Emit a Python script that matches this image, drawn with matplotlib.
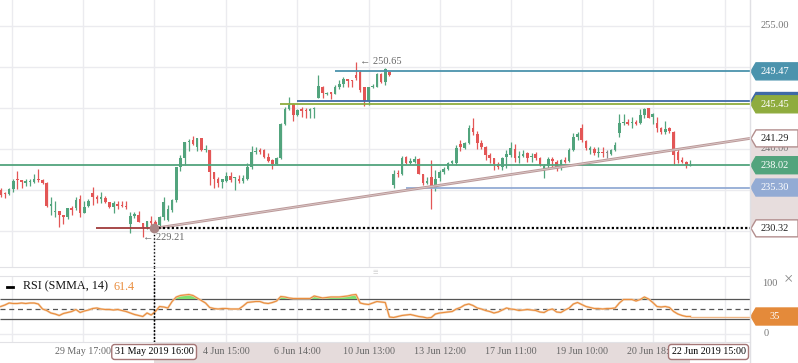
import numpy as np
import matplotlib.pyplot as plt
import matplotlib.transforms as mtransforms
from matplotlib.patches import Polygon, Rectangle
from matplotlib.lines import Line2D

plt.rcParams['font.family'] = ['Liberation Serif', 'DejaVu Sans']

# ---- hourly candles ----
opens = [235.0, 234.6, 234.5, 235.1, 236.4, 236.2, 235.9, 236.0, 236.0, 236.4,
         236.2, 235.9, 233.0, 232.3, 232.4, 231.9, 231.7, 232.8, 232.8, 233.9,
         232.2, 233.0, 234.6, 234.1, 233.9, 234.0, 233.5, 232.9, 233.3, 233.2,
         233.1, 230.8, 231.85, 231.95, 230.95, 230.5, 231.25, 231.1, 230.75, 231.7,
         231.35, 232.6, 233.8, 237.85, 238.85, 240.8, 241.1, 240.3, 241.3, 239.9,
         239.9, 237.2, 236.3, 236.0, 236.1, 236.7, 236.5, 236.4, 236.1, 236.3,
         237.85, 239.65, 239.9, 239.9, 239.05, 238.65, 238.15, 238.95, 243.05, 244.9,
         245.45, 244.15, 244.85, 244.75, 244.65, 244.85, 246.2, 247.5, 246.7, 246.9,
         246.7, 247.5, 247.95, 248.55, 248.4, 249.0, 249.4, 247.5, 245.8, 247.5,
         247.6, 249.2, 248.2, 249.4, 235.6, 237.1, 236.95, 239.0, 238.3, 238.4,
         238.8, 237.0, 235.9, 236.55, 235.3, 236.5, 237.15, 237.55, 238.3, 238.3,
         240.6, 240.1, 240.7, 242.6, 241.8, 240.7, 240.3, 239.3, 238.85, 238.15,
         237.85, 239.05, 239.25, 239.95, 238.95, 239.15, 239.45, 239.0, 239.35, 238.85,
         237.3, 237.95, 238.75, 238.45, 237.65, 238.65, 238.55, 239.9, 241.5, 242.5,
         241.0, 239.9, 240.0, 239.55, 239.65, 239.5, 239.4, 239.9, 242.0, 243.15,
         243.25, 243.15, 243.25, 243.15, 244.15, 244.95, 243.95, 243.15, 242.5, 242.05,
         242.5, 242.1, 239.65, 238.6, 238.4, 237.95]
highs = [235.3, 234.8, 235.3, 236.3, 237.3, 236.2, 236.3, 236.4, 236.9, 237.5,
         236.4, 236.0, 234.1, 233.7, 232.4, 231.9, 232.8, 233.0, 234.1, 234.4,
         233.7, 233.9, 235.4, 234.4, 234.7, 234.3, 233.5, 233.6, 233.7, 233.7,
         233.7, 232.35, 232.35, 232.4, 230.95, 231.25, 231.8, 231.3, 231.85, 234.2,
         233.15, 233.9, 237.85, 239.25, 240.8, 241.2, 241.6, 241.4, 241.3, 240.5,
         239.9, 237.2, 236.6, 236.4, 237.2, 237.2, 236.6, 236.8, 236.8, 238.35,
         240.4, 240.2, 240.1, 239.95, 239.55, 238.8, 239.05, 243.2, 245.15, 246.3,
         245.65, 244.85, 245.1, 244.95, 244.95, 245.1, 249.0, 247.7, 247.0, 247.0,
         247.8, 248.4, 248.75, 248.55, 248.4, 250.65, 249.6, 247.6, 247.5, 247.9,
         249.3, 249.3, 249.9, 249.5, 237.4, 237.4, 239.1, 239.1, 238.9, 239.1,
         238.9, 237.0, 236.55, 238.65, 237.4, 237.4, 237.8, 238.4, 238.7, 240.5,
         241.1, 240.8, 242.9, 243.8, 242.2, 241.1, 240.4, 239.55, 238.9, 238.45,
         239.0, 239.9, 240.9, 240.55, 239.8, 239.9, 239.65, 239.55, 239.65, 239.0,
         238.15, 239.05, 239.0, 238.6, 238.8, 239.05, 240.1, 242.0, 242.1, 243.05,
         241.1, 240.35, 240.2, 240.2, 240.2, 239.9, 239.95, 240.8, 244.3, 244.3,
         243.65, 243.95, 243.5, 244.85, 244.95, 245.05, 244.4, 243.95, 242.65, 243.45,
         242.7, 242.2, 239.95, 239.05, 238.5, 238.7]
lows = [234.2, 234.0, 234.4, 234.7, 235.1, 235.3, 235.5, 235.5, 235.8, 236.0,
        235.7, 232.9, 231.9, 231.7, 230.5, 230.9, 231.5, 231.9, 232.6, 231.7,
        232.2, 232.9, 233.2, 233.4, 233.4, 233.4, 232.8, 232.2, 232.7, 232.9,
        232.7, 229.8, 231.55, 231.05, 229.21, 230.3, 230.75, 230.45, 230.5, 231.3,
        231.25, 232.35, 233.5, 237.35, 238.1, 239.75, 240.5, 239.75, 239.7, 239.6,
        235.6, 235.3, 235.4, 235.2, 236.0, 236.0, 235.0, 235.8, 235.9, 236.2,
        237.6, 239.35, 239.4, 238.85, 238.45, 237.6, 238.05, 238.75, 242.95, 244.75,
        243.4, 244.05, 243.95, 243.8, 243.8, 243.75, 246.2, 246.2, 246.6, 246.1,
        246.65, 247.3, 247.6, 247.6, 247.6, 248.4, 247.0, 245.3, 245.4, 247.4,
        247.5, 248.1, 247.8, 248.9, 235.3, 236.6, 236.8, 238.2, 238.2, 238.3,
        236.95, 235.6, 235.7, 232.7, 234.9, 236.1, 237.0, 237.4, 238.2, 238.1,
        239.7, 240.0, 240.6, 241.7, 239.95, 239.95, 238.65, 238.35, 237.45, 237.5,
        237.45, 237.65, 239.05, 238.45, 238.25, 239.0, 238.45, 238.45, 238.65, 237.95,
        236.5, 237.65, 237.85, 237.35, 237.45, 238.25, 238.45, 239.8, 241.1, 240.8,
        239.9, 239.4, 239.25, 239.0, 239.05, 238.85, 239.25, 239.8, 241.5, 242.9,
        242.9, 242.6, 242.9, 243.1, 243.75, 243.75, 243.05, 242.05, 241.85, 241.85,
        242.0, 238.1, 238.25, 238.25, 237.7, 237.9]
closes = [234.4, 234.5, 235.1, 236.1, 236.2, 236.0, 236.1, 236.1, 236.4, 236.2,
          235.8, 233.0, 233.3, 232.4, 231.9, 231.7, 232.8, 232.6, 233.8, 232.2,
          232.9, 233.6, 234.1, 233.9, 234.1, 233.5, 232.9, 233.4, 233.1, 233.0,
          232.95, 231.8, 232.05, 231.15, 230.5, 231.25, 231.0, 230.6, 231.7, 233.5,
          232.65, 233.8, 237.85, 238.85, 240.8, 241.0, 240.6, 241.3, 239.9, 240.0,
          237.2, 236.4, 235.9, 236.3, 236.7, 236.2, 236.6, 236.1, 236.5, 237.85,
          239.6, 239.8, 239.65, 239.05, 238.55, 238.15, 238.95, 243.05, 244.9, 245.35,
          244.15, 244.75, 244.65, 244.65, 244.85, 244.95, 247.7, 246.8, 246.8, 246.7,
          247.5, 247.95, 248.55, 248.35, 248.3, 248.6, 247.2, 245.8, 247.5, 247.7,
          249.2, 248.2, 249.8, 249.0, 237.0, 236.9, 238.95, 238.3, 238.5, 238.8,
          237.0, 235.8, 236.1, 235.5, 236.4, 237.15, 237.6, 238.3, 238.5, 240.1,
          240.3, 240.7, 242.6, 242.05, 240.7, 240.3, 239.3, 238.95, 238.15, 237.85,
          238.85, 239.4, 240.1, 238.95, 239.15, 239.4, 238.85, 239.2, 238.85, 238.05,
          237.95, 238.75, 238.55, 237.5, 238.65, 238.45, 239.9, 241.5, 241.85, 241.1,
          240.1, 240.1, 239.55, 239.65, 239.55, 239.5, 239.9, 240.5, 243.2, 243.25,
          243.1, 243.25, 243.05, 244.15, 244.85, 243.75, 244.3, 242.5, 242.05, 242.4,
          242.25, 239.3, 238.6, 238.4, 238.1, 238.02]

rsi_values = [55, 58, 62, 61, 61, 62, 61, 62, 62, 60, 50, 47, 42, 40, 37, 41, 43, 45, 49, 43,
              46, 48, 51, 52, 50, 49, 49, 48, 49, 47, 45, 42, 39, 37, 35, 42, 38, 45, 55, 54,
              52, 65, 74, 77, 78, 79, 77, 72, 67, 62, 53, 51, 50, 51, 51, 50, 50, 50, 56, 63,
              64, 65, 65, 62, 61, 63, 66, 75, 74, 72, 71, 71, 71, 71, 71, 76, 74, 72, 73, 74,
              74, 74, 75, 76, 78, 79, 62, 60, 59, 62, 65, 64, 63, 34, 33, 35, 37, 38, 39, 37,
              35, 34, 32, 33, 40, 42, 43, 44, 45, 50, 53, 58, 60, 57, 52, 50, 47, 45, 42, 44,
              48, 52, 50, 49, 47, 48, 49, 48, 47, 44, 43, 48, 50, 44, 43, 48, 52, 60, 63, 59,
              55, 53, 51, 51, 50, 51, 51, 52, 62, 69, 69, 69, 66, 69, 74, 70, 63, 55, 54, 55,
              53, 45, 40, 37, 35, 35]

# time axis (candle index) and its labels
tick_pos = [2.7, 19.7, 36.7, 53.9, 70.9, 88.1, 105.1, 122.1, 139.1, 156.1, 173.3]
tick_labels = ['', '29 May 17:00', '', '4 Jun 15:00', '6 Jun 14:00', '10 Jun 13:00',
               '13 Jun 12:00', '17 Jun 11:00', '19 Jun 10:00', '20 Jun 18:00', '']
cross_label_left = '31 May 2019 16:00'
cross_label_right = '22 Jun 2019 15:00'
grid_prices = [230, 235, 240, 245, 250, 255]

# drawn objects on the chart
level_prices = [249.47, 245.85, 245.45, 238.02, 235.30]
level_starts = [80.0, 70.8, 66.8, -0.2, 97.0]
level_tags = ['249.47', '', '245.45', '238.02', '235.30']
trend_start = (36.7, 230.32)
trend_end_price = 241.29
low_mark = (34, 229.21)
high_mark = (85, 250.65)
red_ray_start = 22.8
rsi_levels = [70, 50, 30]
rsi_last_tag = '35'
rsi_legend_value = '61.4'

level_colors = ['#4b93ad', '#3f6aa6', '#8fac3e', '#52a47d', '#93abd4']
GREEN, RED, GRAY = '#52a47d', '#e35656', '#8a8a8a'
GRID = '#ebebef'

W, H = 798, 363
fig = plt.figure(figsize=(W / 100, H / 100), dpi=100)
ax = fig.add_axes([0, 1 - 267.3 / H, 750 / W, 267.3 / H])
ax_r = fig.add_axes([0, 1 - 341.7 / H, 750 / W, 66 / H])

xmin, xmax = -0.17, 179.26
for a in (ax, ax_r):
    a.set_xlim(xmin, xmax)
    a.set_xticks(tick_pos)
    a.grid(axis='x', color=GRID, lw=1)
    a.tick_params(length=0, labelleft=False, labelbottom=False)
    for s in a.spines.values():
        s.set_visible(False)
    a.set_axisbelow(True)
ax.set_ylim(225.57, 258.17)
ax.set_yticks(grid_prices)
ax.grid(axis='y', color=GRID, lw=1)
ax.spines['bottom'].set_visible(True)
ax.spines['bottom'].set_color('#e2e2e6')
ax_r.set_ylim(-15.4, 116.6)
ax_r.set_yticks([0])
ax_r.grid(axis='y', color=GRID, lw=1)
for s in ('top', 'bottom'):
    ax_r.spines[s].set_visible(True)
    ax_r.spines[s].set_color('#e2e2e6')

# ---- candles ----
o, h, l, c = map(np.array, (opens, highs, lows, closes))
idx = np.arange(len(o))
cols = np.where(c > o, GREEN, np.where(c < o, RED, GRAY))
ax.vlines(idx, l, h, colors=cols, lw=0.9, zorder=3)
ax.bar(idx, np.maximum(np.abs(c - o), 0.12), bottom=np.minimum(o, c), width=0.62,
       color=cols, linewidth=0, zorder=4)

# ---- levels and drawings ----
for p, s, col in zip(level_prices, level_starts, level_colors):
    ax.hlines(p, s, xmax, color=col, lw=1.3, zorder=5)
ax.plot([trend_start[0], xmax], [trend_start[1], trend_end_price], color='#bb9999', lw=2, zorder=5,
        solid_capstyle='butt')
ax.plot([trend_start[0], xmax], [trend_start[1], trend_end_price], color='#dccaca', lw=0.6, zorder=5)
ax.hlines(trend_start[1], red_ray_start, trend_start[0], color='#a03c3c', lw=1.3, zorder=5)
ax.hlines(trend_start[1], trend_start[0], xmax, color='black', lw=1.6, linestyles=(0, (1, 1)), zorder=5)
ax.vlines(trend_start[0], ax.get_ylim()[0], trend_start[1], color='black', lw=1, linestyles=(0, (1, 1.5)), zorder=5)
ax.plot(*trend_start, 'o', ms=6, color='#a98585', zorder=6)

ax.text(low_mark[0], low_mark[1], '\u2190 229.21', ha='left', va='center', fontsize=7.5, color='#666666', zorder=7)
ax.text(high_mark[0] + 0.9, high_mark[1], '\u2190 250.65', ha='left', va='center', fontsize=7.5, color='#666666', zorder=7)

# crosshair through gap and RSI panel
gap_tr = mtransforms.blended_transform_factory(ax.transData, fig.transFigure)
fig.add_artist(Line2D([trend_start[0]] * 2, [1 - 267.3 / H, 1 - 341.7 / H], transform=gap_tr,
                      color='black', lw=1, linestyle=(0, (1, 1.5))))

# ---- right price axis ----
tr = mtransforms.blended_transform_factory(fig.transFigure, ax.transData)
ax.add_patch(Rectangle((750 / W, trend_start[1]), 48 / W, trend_end_price - trend_start[1], transform=tr,
                       facecolor='#e7dddd', edgecolor='none', clip_on=False, zorder=1))
dh = 8.5 / 8.2
tagged = level_prices + [trend_end_price, trend_start[1]]
for p in grid_prices:
    # price labels that sit fully under a tag are not visible in the chart
    if min(abs(p - q) for q in tagged) > dh:
        ax.text(775 / W, p, f'{p:.2f}', transform=tr, ha='center', va='center', fontsize=7.5,
                color='#777777', clip_on=False, zorder=8)


def tag(axis, value, text, face, edge, tcol, dh):
    t = mtransforms.blended_transform_factory(fig.transFigure, axis.transData)
    pts = [(751 / W, value), (756 / W, value + dh), (1.0, value + dh), (1.0, value - dh), (756 / W, value - dh)]
    axis.add_patch(Polygon(pts, closed=True, transform=t, facecolor=face, edgecolor=edge, lw=1,
                           clip_on=False, zorder=10))
    if text:
        axis.text(775 / W, value, text, transform=t, ha='center', va='center', fontsize=7.5,
                  color=tcol, clip_on=False, zorder=11)


for p, txt, col in zip(level_prices, level_tags, level_colors):
    tag(ax, p, txt, col, col, 'white', dh)
tag(ax, trend_end_price, f'{trend_end_price:.2f}', 'white', '#b38e8e', '#222222', dh)
tag(ax, trend_start[1], f'{trend_start[1]:.2f}', 'white', '#b38e8e', '#222222', dh)

# ---- RSI panel ----
rsi = np.array(rsi_values, dtype=float)
ridx = np.arange(len(rsi))
ax_r.hlines([rsi_levels[0], rsi_levels[2]], xmin, xmax, color='#555555', lw=0.9, zorder=2)
ax_r.hlines(rsi_levels[1], xmin, xmax, color='#555555', lw=0.9, linestyles=(0, (4, 3)), zorder=2)
ax_r.fill_between(ridx, rsi, rsi_levels[0], where=rsi > rsi_levels[0], interpolate=True,
                  color='#7fe070', lw=0, zorder=3)
ax_r.plot(ridx, rsi, color='#f5d3b2', lw=1.6, zorder=4)
ax_r.plot(ridx, rsi, color='#e98d3e', lw=0.8, zorder=5)
ax_r.hlines(rsi[-1], ridx[-1], xmax, color='#f0b888', lw=1, zorder=4)
ax_r.vlines(trend_start[0], -15.4, 116.6, color='black', lw=1, linestyles=(0, (1, 1.5)), zorder=6)

rtr = mtransforms.blended_transform_factory(fig.transFigure, ax_r.transData)
ax_r.text(770 / W, 100, '100', transform=rtr, ha='center', va='center', fontsize=7.5, color='#777777', clip_on=False)
ax_r.text(766 / W, 0, '0', transform=rtr, ha='center', va='center', fontsize=7.5, color='#777777', clip_on=False)
tag(ax_r, rsi[-1], rsi_last_tag, '#e48a3a', '#e48a3a', 'white', 17)
fig.text(788 / W, 1 - 279 / H, '\u00d7', ha='center', va='center', fontsize=12, color='#888888')

ax_r.plot([7 / 750, 13 / 750], [0.836, 0.836], transform=ax_r.transAxes, color='black', lw=2, zorder=7)
ax_r.text(23 / 750, 0.836, 'RSI (SMMA, 14)', transform=ax_r.transAxes, ha='left', va='center',
          fontsize=8.7, color='#111111', zorder=7)
ax_r.text(113 / 750, 0.836, rsi_legend_value, transform=ax_r.transAxes, ha='left', va='center',
          fontsize=8.7, color='#e98d3e', zorder=7)

fig.text(375 / W, 1 - 271.5 / H, '\u2261', ha='center', va='center', fontsize=7, color='#cccccc')
fig.add_artist(Line2D([750 / W, 750 / W], [0, 1], color='#e0e0e4', lw=1))

# ---- time axis ----
ax.add_patch(Rectangle((trend_start[0], 0), ridx[-1] - trend_start[0], 21 / H, transform=gap_tr,
                       facecolor='#e5dbdb', edgecolor='none', clip_on=False, zorder=1))
for pos, lab in zip(tick_pos, tick_labels):
    if lab:
        fig.text(pos, 1 - 352 / H, lab, transform=gap_tr, ha='center', va='center', fontsize=7.2,
                 color='#666666')
box = dict(boxstyle='round,pad=0.3,rounding_size=0.3', facecolor='white', edgecolor='#a57676', lw=1)
fig.text(trend_start[0], 1 - 352 / H, cross_label_left, transform=gap_tr, ha='center', va='center',
         fontsize=7.2, color='black', bbox=box)
fig.text(745.5 / W, 1 - 352 / H, cross_label_right, ha='right', va='center', fontsize=7.2,
         color='black', bbox=box)

fig.savefig('out.png', dpi=100)
